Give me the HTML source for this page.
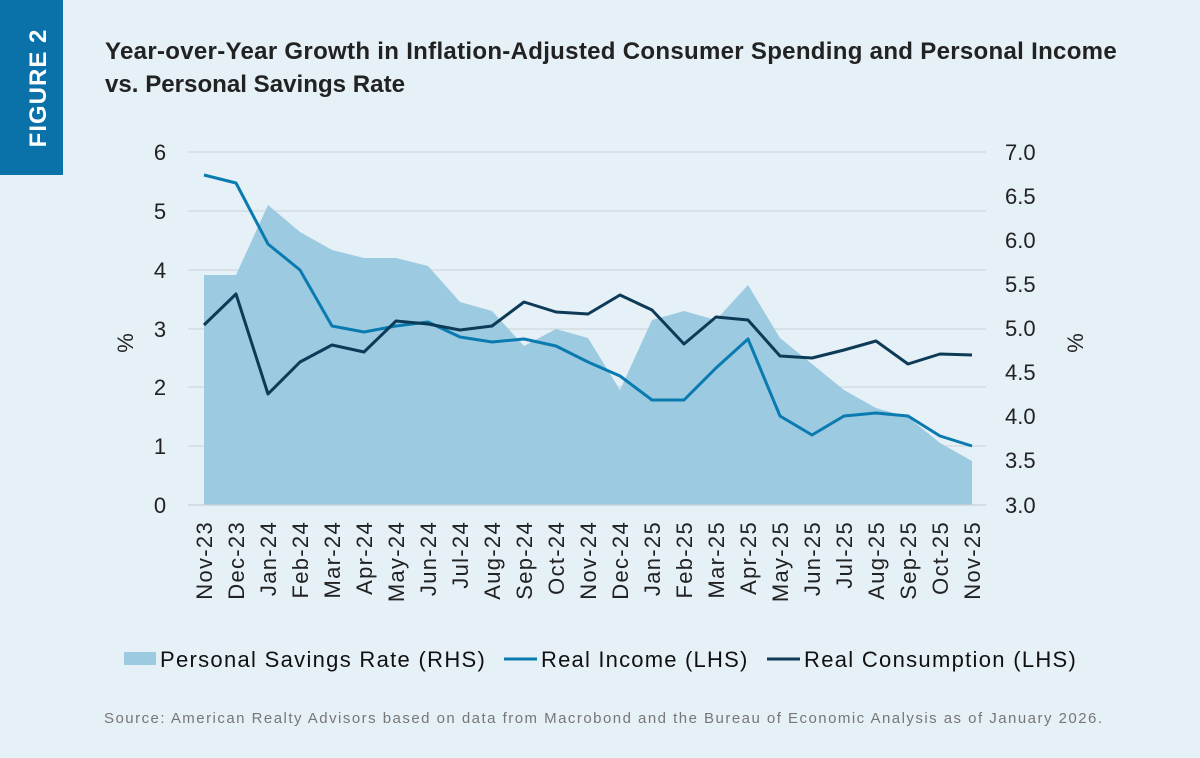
<!DOCTYPE html>
<html><head><meta charset="utf-8"><style>
body{margin:0;background:#e5f0f7;}
svg{display:block;font-family:"Liberation Sans",sans-serif;}
</style></head><body>
<svg width="1200" height="758" viewBox="0 0 1200 758" xmlns="http://www.w3.org/2000/svg">
<rect width="1200" height="758" fill="#e5f0f7"/>
<rect x="0" y="0" width="63" height="175" fill="#0a72a8"/>
<text transform="translate(46,88) rotate(-90)" text-anchor="middle" fill="#fff" font-size="24" font-weight="bold" letter-spacing="1">FIGURE 2</text>
<text x="105" y="59" font-size="24" font-weight="bold" fill="#222" letter-spacing="0.3" textLength="1012" lengthAdjust="spacingAndGlyphs">Year-over-Year Growth in Inflation-Adjusted Consumer Spending and Personal Income</text>
<text x="105" y="92" font-size="24" font-weight="bold" fill="#222" textLength="300" lengthAdjust="spacingAndGlyphs">vs. Personal Savings Rate</text>
<g stroke="#d0d8de" stroke-width="1.2">
<line x1="188" y1="152" x2="986" y2="152"/><line x1="188" y1="211" x2="986" y2="211"/><line x1="188" y1="270" x2="986" y2="270"/><line x1="188" y1="329" x2="986" y2="329"/><line x1="188" y1="387" x2="986" y2="387"/><line x1="188" y1="446" x2="986" y2="446"/>
</g>
<polygon fill="#9ccae0" points="204,505 204,275 236,275 268,205 300,232 332,250 364,258 396,258 428,266 460,302 492,311 524,346 556,329 588,338 620,390 652,320 684,311 716,320 748,285 780,338 812,364 844,390 876,408 908,417 940,443 972,461 972,505"/>
<line x1="188" y1="505" x2="986" y2="505" stroke="#c8d0d6" stroke-width="1.2"/>
<polyline fill="none" stroke="#0a7bb0" stroke-width="3" stroke-linejoin="round" points="204,175 236,183 268,244 300,270 332,326 364,332 396,326 428,322 460,337 492,342 524,339 556,346 588,362 620,376 652,400 684,400 716,368 748,339 780,416 812,435 844,416 876,413 908,416 940,436 972,446"/>
<polyline fill="none" stroke="#0d3a57" stroke-width="3" stroke-linejoin="round" points="204,325 236,294 268,394 300,362 332,345 364,352 396,321 428,324 460,330 492,326 524,302 556,312 588,314 620,295 652,310 684,344 716,317 748,320 780,356 812,358 844,350 876,341 908,364 940,354 972,355"/>
<g font-size="22" fill="#222" text-anchor="middle">
<text x="160" y="160">6</text><text x="160" y="219">5</text><text x="160" y="278">4</text><text x="160" y="337">3</text><text x="160" y="395">2</text><text x="160" y="454">1</text><text x="160" y="513">0</text>
</g>
<g font-size="22" fill="#222" text-anchor="start">
<text x="1005" y="160">7.0</text><text x="1005" y="204">6.5</text><text x="1005" y="248">6.0</text><text x="1005" y="292">5.5</text><text x="1005" y="336">5.0</text><text x="1005" y="380">4.5</text><text x="1005" y="424">4.0</text><text x="1005" y="468">3.5</text><text x="1005" y="513">3.0</text>
</g>
<text transform="translate(133,343) rotate(-90)" font-size="22" fill="#222" text-anchor="middle">%</text>
<text transform="translate(1083,343) rotate(-90)" font-size="22" fill="#222" text-anchor="middle">%</text>
<g font-size="22" fill="#222" text-anchor="end" letter-spacing="1.3">
<text transform="translate(212,521) rotate(-90)">Nov-23</text><text transform="translate(244,521) rotate(-90)">Dec-23</text><text transform="translate(276,521) rotate(-90)">Jan-24</text><text transform="translate(308,521) rotate(-90)">Feb-24</text><text transform="translate(340,521) rotate(-90)">Mar-24</text><text transform="translate(372,521) rotate(-90)">Apr-24</text><text transform="translate(404,521) rotate(-90)">May-24</text><text transform="translate(436,521) rotate(-90)">Jun-24</text><text transform="translate(468,521) rotate(-90)">Jul-24</text><text transform="translate(500,521) rotate(-90)">Aug-24</text><text transform="translate(532,521) rotate(-90)">Sep-24</text><text transform="translate(564,521) rotate(-90)">Oct-24</text><text transform="translate(596,521) rotate(-90)">Nov-24</text><text transform="translate(628,521) rotate(-90)">Dec-24</text><text transform="translate(660,521) rotate(-90)">Jan-25</text><text transform="translate(692,521) rotate(-90)">Feb-25</text><text transform="translate(724,521) rotate(-90)">Mar-25</text><text transform="translate(756,521) rotate(-90)">Apr-25</text><text transform="translate(788,521) rotate(-90)">May-25</text><text transform="translate(820,521) rotate(-90)">Jun-25</text><text transform="translate(852,521) rotate(-90)">Jul-25</text><text transform="translate(884,521) rotate(-90)">Aug-25</text><text transform="translate(916,521) rotate(-90)">Sep-25</text><text transform="translate(948,521) rotate(-90)">Oct-25</text><text transform="translate(980,521) rotate(-90)">Nov-25</text>
</g>
<rect x="124" y="652" width="32" height="13" fill="#9ccae0"/>
<text x="160" y="667" font-size="22" fill="#111" letter-spacing="1.3">Personal Savings Rate (RHS)</text>
<line x1="504" y1="659" x2="537" y2="659" stroke="#0a7bb0" stroke-width="3"/>
<text x="541" y="667" font-size="22" fill="#111" letter-spacing="1.2">Real Income (LHS)</text>
<line x1="767" y1="659" x2="800" y2="659" stroke="#0d3a57" stroke-width="3"/>
<text x="804" y="667" font-size="22" fill="#111" letter-spacing="1.3">Real Consumption (LHS)</text>
<text x="104" y="723" font-size="15" fill="#777" textLength="998" lengthAdjust="spacing">Source: American Realty Advisors based on data from Macrobond and the Bureau of Economic Analysis as of January 2026.</text>
</svg>
</body></html>
